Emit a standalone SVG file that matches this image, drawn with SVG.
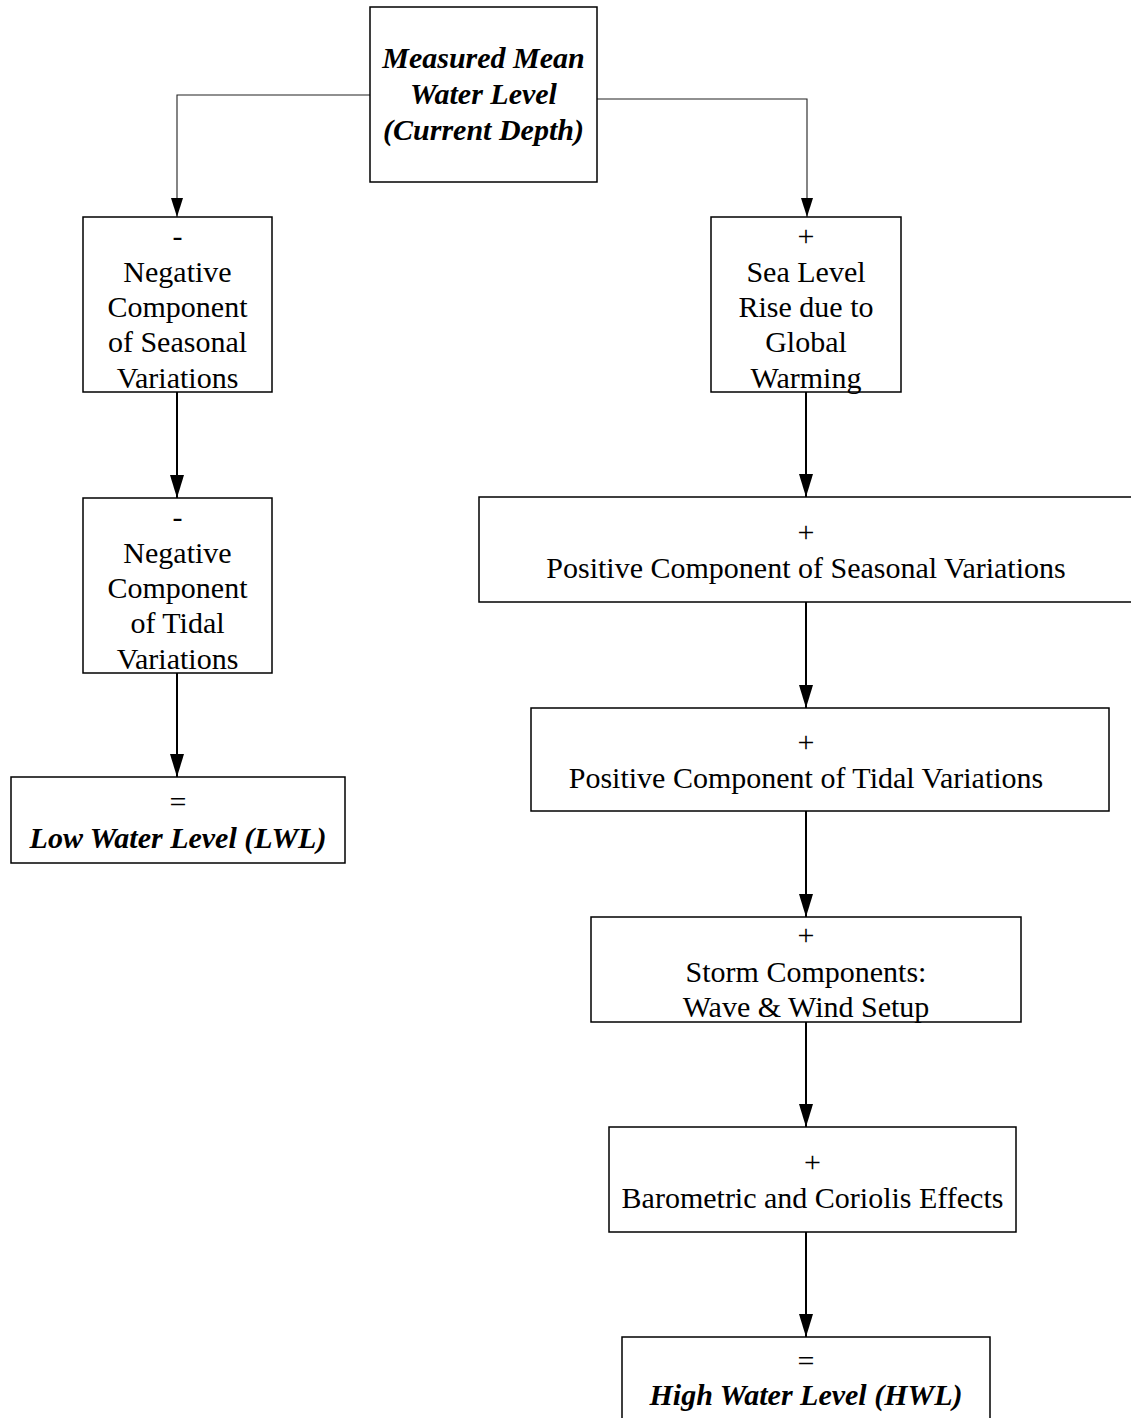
<svg xmlns="http://www.w3.org/2000/svg" width="1131" height="1418" viewBox="0 0 1131 1418">
<style>
.box{fill:#fff;stroke:#000;stroke-width:1.5}
.t{font-family:"Liberation Serif","Times New Roman",serif;font-size:30px;fill:#000;text-anchor:middle}
.bi{font-weight:bold;font-style:italic}
.c{fill:none;stroke:#000;stroke-width:2}
.ct{fill:none;stroke:#222;stroke-width:1.1}
</style>
<defs>
<marker id="ah" markerUnits="userSpaceOnUse" markerWidth="23" markerHeight="14" refX="23" refY="7" orient="auto">
<path d="M0,0 L23,7 L0,14 z" fill="#000"/>
</marker>
<marker id="aht" markerUnits="userSpaceOnUse" markerWidth="19" markerHeight="12" refX="19" refY="6" orient="auto">
<path d="M0,0 L19,6 L0,12 z" fill="#000"/>
</marker>
</defs>
<rect width="1131" height="1418" fill="#fff"/>
<g id="connectors">
<path class="ct" d="M370,95 H177 V217" marker-end="url(#aht)"/>
<path class="ct" d="M597,99 H807 V217" marker-end="url(#aht)"/>
<path class="c" d="M177,392 V498" marker-end="url(#ah)"/>
<path class="c" d="M177,673 V777" marker-end="url(#ah)"/>
<path class="c" d="M806,392 V497" marker-end="url(#ah)"/>
<path class="c" d="M806,602 V708" marker-end="url(#ah)"/>
<path class="c" d="M806,811 V917" marker-end="url(#ah)"/>
<path class="c" d="M806,1022 V1127" marker-end="url(#ah)"/>
<path class="c" d="M806,1232 V1337" marker-end="url(#ah)"/>
</g>
<g id="mean">
<rect class="box" x="370" y="7" width="227" height="175"/>
<text class="t bi" x="483.5" y="68">Measured Mean</text>
<text class="t bi" x="483.5" y="104">Water Level</text>
<text class="t bi" x="483.5" y="139.5">(Current Depth)</text>
</g>
<g id="neg-seasonal">
<rect class="box" x="83" y="217" width="189" height="175"/>
<text class="t" x="177.5" y="246">-</text>
<text class="t" x="177.5" y="281.5">Negative</text>
<text class="t" x="177.5" y="317">Component</text>
<text class="t" x="177.5" y="352">of Seasonal</text>
<text class="t" x="177.5" y="387.5">Variations</text>
</g>
<g id="neg-tidal">
<rect class="box" x="83" y="498" width="189" height="175"/>
<text class="t" x="177.5" y="527">-</text>
<text class="t" x="177.5" y="562.5">Negative</text>
<text class="t" x="177.5" y="598">Component</text>
<text class="t" x="177.5" y="633">of Tidal</text>
<text class="t" x="177.5" y="668.5">Variations</text>
</g>
<g id="lwl">
<rect class="box" x="11" y="777" width="334" height="86"/>
<text class="t" x="178" y="812">=</text>
<text class="t bi" x="178" y="848">Low Water Level (LWL)</text>
</g>
<g id="sea-level-rise">
<rect class="box" x="711" y="217" width="190" height="175"/>
<text class="t" x="806" y="246">+</text>
<text class="t" x="806" y="281.5">Sea Level</text>
<text class="t" x="806" y="317">Rise due to</text>
<text class="t" x="806" y="352">Global</text>
<text class="t" x="806" y="387.5">Warming</text>
</g>
<g id="pos-seasonal">
<rect class="box" x="479" y="497" width="700" height="105"/>
<text class="t" x="806" y="542">+</text>
<text class="t" x="806" y="578">Positive Component of Seasonal Variations</text>
</g>
<g id="pos-tidal">
<rect class="box" x="531" y="708" width="578" height="103"/>
<text class="t" x="806" y="752">+</text>
<text class="t" x="806" y="788">Positive Component of Tidal Variations</text>
</g>
<g id="storm">
<rect class="box" x="591" y="917" width="430" height="105"/>
<text class="t" x="806" y="945">+</text>
<text class="t" x="806" y="982">Storm Components:</text>
<text class="t" x="806" y="1017">Wave &amp; Wind Setup</text>
</g>
<g id="barometric">
<rect class="box" x="609" y="1127" width="407" height="105"/>
<text class="t" x="812.5" y="1172">+</text>
<text class="t" x="812.5" y="1208">Barometric and Coriolis Effects</text>
</g>
<g id="hwl">
<rect class="box" x="622" y="1337" width="368" height="120"/>
<text class="t" x="806" y="1371">=</text>
<text class="t bi" x="806" y="1405">High Water Level (HWL)</text>
</g>
</svg>
